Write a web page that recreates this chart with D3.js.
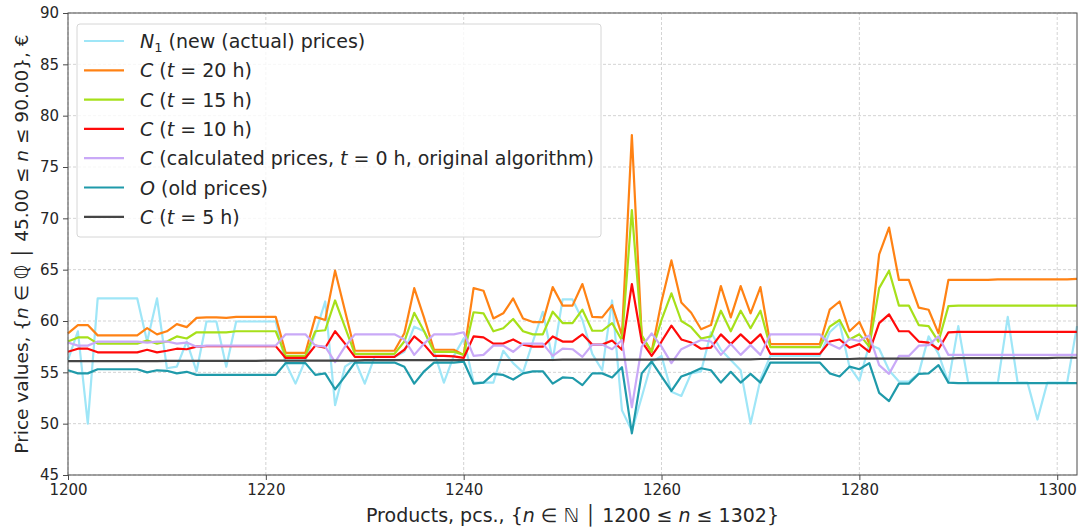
<!DOCTYPE html>
<html>
<head>
<meta charset="utf-8">
<script src="https://cdn.jsdelivr.net/npm/d3@7"></script>
<style>
  body { margin: 0; background: #fff; }
  text { font-family: "DejaVu Sans", sans-serif; fill: #262626; }
</style>
</head>
<body>
<div id="chart"></div>
<script>
// product numbers 1200..1302
var products = d3.range(1200, 1303);

var newPrices = [56.2,59.0,50.0,62.2,62.2,62.2,62.2,62.2,58.0,62.2,
  55.4,55.55,58.0,55.1,59.95,59.95,55.55,59.95,59.95,59.95,
  59.95,59.95,55.9,53.9,56.2,58.8,61.9,51.8,55.55,56.2,
  53.9,56.5,56.5,56.5,57.0,59.45,59.0,57.0,54.0,56.6,
  58.3,54.0,54.0,54.0,57.1,55.9,55.0,58.0,60.9,56.2,
  62.1,62.1,60.1,56.8,55.2,62.0,51.3,49.3,52.6,56.0,
  56.6,53.1,52.7,54.9,55.1,58.9,57.2,56.2,55.2,50.0,
  54.3,56.6,56.6,56.6,56.6,56.6,56.6,58.9,59.8,55.55,
  54.2,57.7,57.3,55.2,54.1,54.1,54.9,58.5,56.8,54.0,
  59.5,54.0,54.0,54.0,54.0,60.4,54.0,54.0,50.4,54.0,
  54.0,54.0,59.5];

var calc20 = [58.8,59.6,59.6,58.6,58.6,58.6,58.6,58.6,59.3,58.7,
  59.0,59.7,59.4,60.3,60.35,60.35,60.3,60.4,60.4,60.4,
  60.4,60.4,56.9,56.9,56.9,60.4,60.1,64.9,61.0,57.1,
  57.1,57.1,57.1,57.1,58.8,63.2,60.3,57.2,57.2,57.2,
  56.7,63.2,62.95,60.25,60.75,62.2,60.25,59.9,59.9,63.3,
  61.5,61.5,63.6,60.4,60.35,61.55,58.6,78.1,58.5,57.0,
  61.9,65.9,61.8,60.8,59.2,59.6,63.4,60.35,63.4,60.75,
  63.3,57.75,57.75,57.75,57.75,57.75,57.75,61.1,61.9,59.0,
  59.9,57.8,66.5,69.1,64.0,64.0,61.3,61.1,58.8,64.0,
  64.0,64.0,64.0,64.0,64.05,64.05,64.05,64.05,64.05,64.05,
  64.05,64.05,64.1];

var calc15 = [58.0,58.4,58.4,57.8,57.8,57.8,57.8,57.8,58.1,57.8,
  58.0,58.5,58.3,58.9,58.9,58.9,58.9,59.0,59.0,59.0,
  59.0,59.0,56.6,56.6,56.6,59.0,59.1,62.0,59.4,56.8,
  56.8,56.8,56.8,56.8,58.0,60.8,59.0,57.0,57.0,57.0,
  56.7,60.85,60.75,59.0,59.3,60.2,59.0,58.7,58.7,60.9,
  59.8,59.8,61.1,59.05,59.05,59.8,58.1,70.8,58.6,57.0,
  60.1,62.7,60.0,59.4,58.3,58.5,61.0,59.0,61.0,59.3,
  61.0,57.45,57.45,57.45,57.45,57.45,57.45,59.45,60.1,58.2,
  58.7,57.5,63.2,64.9,61.5,61.5,59.6,59.5,58.0,61.45,
  61.5,61.5,61.5,61.5,61.5,61.5,61.5,61.5,61.5,61.5,
  61.5,61.5,61.5];

var calc10 = [57.0,57.3,57.3,56.95,56.95,56.95,56.95,56.95,57.2,56.95,
  57.1,57.3,57.25,57.5,57.55,57.55,57.55,57.55,57.55,57.55,
  57.55,57.55,56.4,56.4,56.4,57.6,57.4,59.0,57.8,56.5,
  56.5,56.5,56.5,56.5,57.2,58.5,57.7,56.6,56.6,56.55,
  56.4,58.5,58.4,57.8,57.8,58.2,57.7,57.5,57.5,58.5,
  58.0,58.0,58.7,57.7,57.7,58.1,57.2,63.6,58.0,56.6,
  58.0,59.55,58.2,57.9,57.3,57.4,58.7,57.75,58.7,57.8,
  58.7,56.8,56.8,56.8,56.8,56.8,56.8,58.0,58.2,57.4,
  57.75,57.0,59.8,60.65,59.0,59.0,58.0,57.9,57.25,58.9,
  58.95,58.95,58.95,58.95,58.95,58.95,58.95,58.95,58.95,58.95,
  58.95,58.95,58.95];

var calc0 = [57.9,57.6,57.6,58.0,58.0,58.0,58.0,58.0,57.9,58.0,
  58.0,57.8,57.9,57.5,57.6,57.6,57.6,57.6,57.6,57.6,
  57.6,57.6,58.7,58.7,58.7,57.6,57.5,56.0,57.5,58.7,
  58.7,58.7,58.7,58.7,58.2,56.7,57.8,58.7,58.7,58.7,
  58.9,56.6,56.7,57.6,57.6,57.0,57.8,57.8,57.8,56.6,
  57.3,57.25,56.5,57.7,57.7,57.25,58.15,51.6,57.5,58.8,
  57.5,55.9,57.25,57.7,58.15,58.0,56.7,57.75,56.7,57.65,
  56.7,58.7,58.7,58.7,58.7,58.7,58.7,57.75,57.3,58.25,
  58.05,58.6,55.7,54.85,56.6,56.6,57.6,57.65,58.5,56.7,
  56.7,56.7,56.7,56.7,56.7,56.7,56.7,56.7,56.7,56.7,
  56.7,56.7,56.7];

var oldPrices = [55.2,54.9,54.9,55.3,55.3,55.3,55.3,55.3,55.0,55.2,
  55.15,54.9,55.05,54.75,54.75,54.75,54.75,54.75,54.75,54.75,
  54.75,54.75,55.9,55.9,55.9,54.75,54.9,53.35,54.6,55.95,
  55.95,55.95,55.95,55.95,55.55,53.9,55.1,55.95,55.95,55.95,
  56.05,53.9,54.0,54.85,54.75,54.3,54.9,55.1,55.1,53.9,
  54.5,54.45,53.75,54.9,54.9,54.5,55.5,49.05,54.9,56.05,
  54.6,53.2,54.6,54.95,55.4,55.2,54.0,55.05,54.0,54.85,
  54.0,55.95,55.95,55.95,55.95,55.95,55.95,54.9,54.6,55.55,
  55.3,55.9,53.0,52.2,53.9,53.9,54.85,54.9,55.7,54.0,
  53.95,53.95,53.95,53.95,53.95,53.95,53.95,53.95,53.95,53.95,
  53.95,53.95,53.95];

var calc5 = [56.1,56.1,56.1,56.1,56.1,56.1,56.1,56.1,56.1,56.1,
  56.12,56.12,56.12,56.12,56.12,56.12,56.12,56.12,56.12,56.12,
  56.15,56.15,56.15,56.15,56.15,56.15,56.15,56.15,56.15,56.15,
  56.18,56.18,56.18,56.18,56.18,56.18,56.18,56.18,56.18,56.18,
  56.2,56.2,56.2,56.2,56.2,56.2,56.2,56.2,56.2,56.2,
  56.23,56.23,56.23,56.23,56.23,56.23,56.23,56.23,56.23,56.23,
  56.26,56.26,56.26,56.26,56.26,56.26,56.26,56.26,56.26,56.26,
  56.3,56.3,56.3,56.3,56.3,56.3,56.3,56.3,56.3,56.3,
  56.34,56.34,56.34,56.34,56.34,56.34,56.34,56.34,56.34,56.34,
  56.38,56.38,56.38,56.38,56.38,56.38,56.38,56.38,56.38,56.38,
  56.42,56.42,56.42];

var xTicks = [1200, 1220, 1240, 1260, 1280, 1300];
var yTicks = [45, 50, 55, 60, 65, 70, 75, 80, 85, 90];

// series in legend order; label parts: [text, style]
var series = [
  {values: newPrices, color: '#9fe6f7', label: [['N','i'],['1','sub'],[' (new (actual) prices)','up']]},
  {values: calc20, color: '#ff8214', label: [['C','i'],[' (',''],['t','i'],[' = 20 h)','']]},
  {values: calc15, color: '#a6e01a', label: [['C','i'],[' (',''],['t','i'],[' = 15 h)','']]},
  {values: calc10, color: '#ff0a0a', label: [['C','i'],[' (',''],['t','i'],[' = 10 h)','']]},
  {values: calc0, color: '#c9a9f7', label: [['C','i'],[' (calculated prices, ',''],['t','i'],[' = 0 h, original algorithm)','']]},
  {values: oldPrices, color: '#1f9aaa', label: [['O','i'],[' (old prices)','']]},
  {values: calc5, color: '#454545', label: [['C','i'],[' (',''],['t','i'],[' = 5 h)','']]}
];

var width = 1079, height = 529;
var margin = {left: 68, right: 2, top: 13, bottom: 54};

var x = d3.scaleLinear().domain([1200, 1302]).range([margin.left, width - margin.right]);
var y = d3.scaleLinear().domain([45, 90]).range([height - margin.bottom, margin.top]);

var svg = d3.select('#chart').append('svg')
  .attr('width', width)
  .attr('height', height);

// grid
svg.append('g')
  .selectAll('line')
  .data(xTicks)
  .enter().append('line')
  .attr('x1', function(d) { return x(d); })
  .attr('x2', function(d) { return x(d); })
  .attr('y1', y(45)).attr('y2', y(90))
  .attr('stroke', '#c8c8c8').attr('stroke-width', 0.8).attr('stroke-dasharray', '3,2');

svg.append('g')
  .selectAll('line')
  .data(yTicks)
  .enter().append('line')
  .attr('x1', x(1200)).attr('x2', x(1302))
  .attr('y1', function(d) { return y(d); })
  .attr('y2', function(d) { return y(d); })
  .attr('stroke', '#c8c8c8').attr('stroke-width', 0.8).attr('stroke-dasharray', '3,2');

// lines
var line = d3.line()
  .x(function(d, i) { return x(products[i]); })
  .y(function(d) { return y(d); });

svg.append('g')
  .selectAll('path')
  .data(series)
  .enter().append('path')
  .attr('d', function(d) { return line(d.values); })
  .attr('fill', 'none')
  .attr('stroke', function(d) { return d.color; })
  .attr('stroke-width', 2.2)
  .attr('stroke-linejoin', 'round');

// frame
svg.append('rect')
  .attr('x', x(1200)).attr('y', y(90))
  .attr('width', x(1302) - x(1200))
  .attr('height', y(45) - y(90))
  .attr('fill', 'none').attr('stroke', '#4a4a4a').attr('stroke-width', 1);

// axes
var xAxis = svg.append('g')
  .attr('transform', 'translate(0,' + y(45) + ')')
  .call(d3.axisBottom(x).tickValues(xTicks).tickSize(5).tickPadding(4).tickFormat(d3.format('d')));
var yAxis = svg.append('g')
  .attr('transform', 'translate(' + x(1200) + ',0)')
  .call(d3.axisLeft(y).tickValues(yTicks).tickSize(5).tickPadding(4));

[xAxis, yAxis].forEach(function(a) {
  a.select('.domain').remove();
  a.selectAll('line').attr('stroke', '#4a4a4a');
  a.selectAll('text').style('font-size', '15px').style('font-family', '"DejaVu Sans", sans-serif').attr('fill', '#262626');
});

// axis titles
var xt = svg.append('text')
  .attr('x', (x(1200) + x(1302)) / 2)
  .attr('y', 522)
  .attr('text-anchor', 'middle')
  .style('font-size', '19px');
xt.append('tspan').text('Products, pcs., {');
xt.append('tspan').style('font-style', 'italic').text('n');
xt.append('tspan').text(' ∈ ℕ │ 1200 ≤ ');
xt.append('tspan').style('font-style', 'italic').text('n');
xt.append('tspan').text(' ≤ 1302}');

var yt = svg.append('text')
  .attr('transform', 'translate(28,' + (y(45) + y(90)) / 2 + ') rotate(-90)')
  .attr('text-anchor', 'middle')
  .style('font-size', '18.5px');
yt.append('tspan').text('Price values, {');
yt.append('tspan').style('font-style', 'italic').text('n');
yt.append('tspan').text(' ∈ ℚ │ 45.00 ≤ ');
yt.append('tspan').style('font-style', 'italic').text('n');
yt.append('tspan').text(' ≤ 90.00}, €');

// legend
var legend = svg.append('g');
legend.append('rect')
  .attr('x', 77).attr('y', 24)
  .attr('width', 524).attr('height', 213)
  .attr('rx', 3)
  .attr('fill', '#fff').attr('fill-opacity', 0.8)
  .attr('stroke', '#d6d6d6').attr('stroke-width', 1);

var items = legend.selectAll('g.item')
  .data(series)
  .enter().append('g')
  .attr('transform', function(d, i) { return 'translate(0,' + (41 + i * 29.3) + ')'; });

items.append('line')
  .attr('x1', 84).attr('x2', 124)
  .attr('y1', 0).attr('y2', 0)
  .attr('stroke', function(d) { return d.color; })
  .attr('stroke-width', 2.2);

items.append('text')
  .attr('x', 140).attr('y', 7)
  .style('font-size', '19px')
  .each(function(d) {
    var t = d3.select(this);
    d.label.forEach(function(p) {
      var s = t.append('tspan').text(p[0]);
      if (p[1] === 'i') s.style('font-style', 'italic');
      if (p[1] === 'sub') s.style('font-size', '13px').attr('dy', 4);
      if (p[1] === 'up') s.attr('dy', -4);
    });
  });
</script>
</body>
</html>
